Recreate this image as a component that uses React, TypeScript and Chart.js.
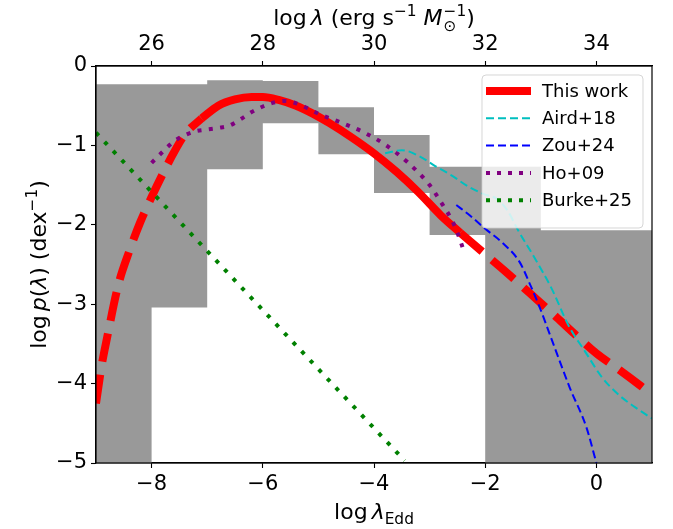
import React, { useEffect, useRef } from "react";
import { Chart, registerables } from "chart.js";

Chart.register(...registerables);

const FONT = "DejaVu Sans";
const TICK_FS = 21;
const LABEL_FS = 22;
const LEGEND_FS = 18;

// axis ticks
const bottomTicks = [-8, -6, -4, -2, 0];
const topTicks = [26, 28, 30, 32, 34];
const yTicks = [0, -1, -2, -3, -4, -5];

// gray bins (log lambda_Edd): left edges, then top/bottom of each bin; last edge closes the range
const binEdges = [-9, -8, -7, -6, -5, -4, -3, -2, -1, 0, 1];
const binTop = [-0.23, -0.23, -0.18, -0.19, -0.52, -0.87, -1.27, -1.27, -2.07, -2.07];
const binBottom = [-5, -3.04, -1.3, -0.72, -1.11, -1.6, -2.13, -5, -5, -5];

// This work
const redX = [-9.0, -8.9, -8.8, -8.6, -8.4, -8.2, -8.0, -7.8, -7.6, -7.4, -7.1, -6.8, -6.5, -6.2, -6.0, -5.7, -5.4, -5.1, -4.8, -4.4, -4.0, -3.6, -3.2, -2.8, -2.45, -2.0, -1.6, -1.2, -0.8, -0.4, 0.0, 0.4, 0.8, 1.0];
const redY = [-4.25, -3.78, -3.42, -2.76, -2.33, -1.96, -1.65, -1.36, -1.09, -0.86, -0.66, -0.5, -0.42, -0.39, -0.39, -0.43, -0.5, -0.6, -0.72, -0.9, -1.1, -1.33, -1.59, -1.88, -2.1, -2.37, -2.61, -2.86, -3.11, -3.37, -3.62, -3.82, -4.03, -4.14];
const redSolidStart = -7.1;
const redSolidEnd = -2.45;

// Aird+18
const airdX = [-3.8, -3.5, -3.2, -2.9, -2.6, -2.3, -2.0, -1.8, -1.6, -1.4, -1.1, -0.8, -0.5, -0.2, 0.1, 0.4, 0.7, 1.0];
const airdY = [-1.1, -1.06, -1.13, -1.26, -1.38, -1.52, -1.62, -1.67, -1.82, -2.08, -2.43, -2.81, -3.27, -3.6, -3.92, -4.14, -4.3, -4.44];

// Zou+24
const zouX = [-2.52, -2.28, -2.0, -1.7, -1.38, -1.2, -1.02, -0.78, -0.48, -0.18, 0.0];
const zouY = [-1.75, -1.88, -2.05, -2.22, -2.47, -2.74, -3.04, -3.49, -4.05, -4.55, -5.0];

// Ho+09
const hoX = [-8.0, -7.8, -7.6, -7.4, -7.2, -7.0, -6.8, -6.6, -6.4, -6.2, -6.0, -5.8, -5.6, -5.4, -5.2, -5.0, -4.6, -4.2, -3.8, -3.4, -3.0, -2.8, -2.6, -2.5, -2.4, -2.37];
const hoY = [-1.22, -1.08, -0.95, -0.87, -0.82, -0.8, -0.78, -0.75, -0.67, -0.58, -0.51, -0.46, -0.44, -0.47, -0.53, -0.6, -0.71, -0.83, -0.99, -1.21, -1.5, -1.71, -1.94, -2.1, -2.3, -2.37];

// Burke+25
const burkeX = [-9.0, -7.0, -3.45];
const burkeY = [-0.84, -2.33, -4.97];

const legendLabels = ["This work", "Aird+18", "Zou+24", "Ho+09", "Burke+25"];

const zip = (xs: number[], ys: number[]) => xs.map((x, i) => ({ x, y: ys[i] }));
const fmt = (v: number) => (v < 0 ? "\u2212" + Math.abs(v) : String(v));

type Part = { t: string; it?: boolean; s?: number; dy?: number; stack?: boolean; gap?: number };

function drawRich(ctx: CanvasRenderingContext2D, parts: Part[], size: number, cx: number, baseline: number) {
  const items: { t: string; font: string; x: number; dy: number }[] = [];
  let x = 0;
  let pending = 0;
  for (const p of parts) {
    const fs = (p.s ?? 1) * size;
    const font = `${p.it ? "italic " : ""}${fs}px "${FONT}"`;
    ctx.font = font;
    const w = ctx.measureText(p.t).width;
    x += p.gap ?? 0;
    items.push({ t: p.t, font, x, dy: p.dy ?? 0 });
    if (p.stack) pending = Math.max(pending, w);
    else {
      x += Math.max(w, pending);
      pending = 0;
    }
  }
  const x0 = cx - x / 2;
  ctx.textAlign = "left";
  ctx.textBaseline = "alphabetic";
  ctx.fillStyle = "#000";
  for (const it of items) {
    ctx.font = it.font;
    ctx.fillText(it.t, x0 + it.x, baseline + it.dy);
  }
}

const decorPlugin = {
  id: "decor",
  afterDatasetsDraw(chart: any) {
    const ctx: CanvasRenderingContext2D = chart.ctx;
    const a = chart.chartArea;
    ctx.save();
    ctx.strokeStyle = "#000";
    ctx.lineWidth = 1.2;
    ctx.strokeRect(a.left, a.top, a.right - a.left, a.bottom - a.top);
    ctx.restore();
  },
  afterDraw(chart: any) {
    const ctx: CanvasRenderingContext2D = chart.ctx;
    const a = chart.chartArea;
    ctx.save();
    const cx = (a.left + a.right) / 2;
    drawRich(ctx, [{ t: "log" }, { t: "\u03bb", it: true, gap: 4 }, { t: "Edd", s: 0.7, dy: 5 }], LABEL_FS, cx, 519);
    drawRich(
      ctx,
      [
        { t: "log" },
        { t: "\u03bb", it: true, gap: 4 },
        { t: " (erg s" },
        { t: "\u22121", s: 0.7, dy: -9 },
        { t: " " },
        { t: "M", it: true },
        { t: "\u22121", s: 0.7, dy: -9, stack: true, gap: 1 },
        { t: "\u2299", s: 0.7, dy: 6 },
        { t: ")" },
      ],
      LABEL_FS,
      cx,
      25
    );
    ctx.save();
    ctx.translate(46, (a.top + a.bottom) / 2);
    ctx.rotate(-Math.PI / 2);
    drawRich(
      ctx,
      [
        { t: "log" },
        { t: "p", it: true, gap: 4 },
        { t: "(" },
        { t: "\u03bb", it: true },
        { t: ")" },
        { t: " (dex" },
        { t: "\u22121", s: 0.7, dy: -9 },
        { t: ")" },
      ],
      LABEL_FS,
      0,
      0
    );
    ctx.restore();

    // legend
    const lw = 161;
    const lh = 153;
    const lx = a.right - 9 - lw;
    const ly = a.top + 9;
    const r = 4;
    ctx.beginPath();
    ctx.moveTo(lx + r, ly);
    ctx.arcTo(lx + lw, ly, lx + lw, ly + lh, r);
    ctx.arcTo(lx + lw, ly + lh, lx, ly + lh, r);
    ctx.arcTo(lx, ly + lh, lx, ly, r);
    ctx.arcTo(lx, ly, lx + lw, ly, r);
    ctx.closePath();
    ctx.fillStyle = "rgba(255,255,255,0.8)";
    ctx.fill();
    ctx.strokeStyle = "rgba(204,204,204,0.8)";
    ctx.lineWidth = 1;
    ctx.stroke();
    const styles = [
      { c: "#ff0000", w: 8, d: [] as number[] },
      { c: "#00bfbf", w: 2, d: [8, 4] },
      { c: "#0000ff", w: 2, d: [8, 4] },
      { c: "#800080", w: 4, d: [4, 7] },
      { c: "#008000", w: 4, d: [4, 7] },
    ];
    legendLabels.forEach((lab, i) => {
      const y = ly + 16 + i * 27.3;
      const s = styles[i];
      ctx.beginPath();
      ctx.setLineDash(s.d);
      ctx.lineCap = "butt";
      ctx.strokeStyle = s.c;
      ctx.lineWidth = s.w;
      ctx.moveTo(lx + 4, y);
      ctx.lineTo(lx + 49, y);
      ctx.stroke();
      ctx.setLineDash([]);
      ctx.fillStyle = "#000";
      ctx.font = `${LEGEND_FS}px "${FONT}"`;
      ctx.textAlign = "left";
      ctx.textBaseline = "middle";
      ctx.fillText(lab, lx + 60, y + 1);
    });
    ctx.restore();
  },
};

const axisCommon = (ticksList: number[]) => ({
  type: "linear" as const,
  afterBuildTicks: (s: any) => {
    s.ticks = ticksList.map((v) => ({ value: v }));
  },
  grid: { drawOnChartArea: false, drawTicks: true, tickLength: 5, color: "#000", tickWidth: 1.1 },
  border: { display: true, color: "#000", width: 1.2 },
  ticks: {
    color: "#000",
    font: { family: FONT, size: TICK_FS },
    padding: 4,
    maxRotation: 0,
    autoSkip: false,
    callback: (v: any) => fmt(Number(v)),
  },
});

export default function App() {
  const ref = useRef<HTMLCanvasElement>(null);
  useEffect(() => {
    document.body.style.margin = "0";
    const canvas = ref.current!;
    const lastTop = binTop[binTop.length - 1];
    const lastBottom = binBottom[binBottom.length - 1];
    const topStep = binEdges.map((x, i) => ({ x, y: i < binTop.length ? binTop[i] : lastTop }));
    const bottomStep = binEdges.map((x, i) => ({ x, y: i < binBottom.length ? binBottom[i] : lastBottom }));
    const redAll = zip(redX, redY);
    const line = (data: any[], color: string, width: number, dash: number[], order: number) => ({
      type: "line" as const,
      data,
      borderColor: color,
      borderWidth: width,
      borderDash: dash,
      borderCapStyle: "butt" as const,
      pointRadius: 0,
      fill: false,
      cubicInterpolationMode: "monotone" as const,
      order,
    });
    const datasets: any[] = [
      {
        data: topStep,
        stepped: "before",
        fill: "+1",
        backgroundColor: "#999999",
        borderWidth: 0,
        borderColor: "rgba(0,0,0,0)",
        pointRadius: 0,
        order: 100,
      },
      {
        data: bottomStep,
        stepped: "before",
        fill: false,
        borderWidth: 0,
        borderColor: "rgba(0,0,0,0)",
        pointRadius: 0,
        order: 101,
      },
      line(redAll.filter((p) => p.x <= redSolidStart), "#ff0000", 8, [29, 13], 50),
      line(redAll.filter((p) => p.x >= redSolidStart && p.x <= redSolidEnd), "#ff0000", 8, [], 50),
      line(redAll.filter((p) => p.x >= redSolidEnd), "#ff0000", 8, [29, 13], 50),
      line(zip(burkeX, burkeY), "#008000", 4, [4, 8.5], 14),
      line(zip(hoX, hoY), "#800080", 4, [4, 7.4], 13),
      line(zip(zouX, zouY), "#0000ff", 2, [8, 4], 12),
      line(zip(airdX, airdY), "#00bfbf", 2, [8, 4], 11),
    ];
    const chart = new Chart(canvas, {
      type: "line",
      data: { datasets },
      plugins: [decorPlugin],
      options: {
        animation: false,
        responsive: false,
        maintainAspectRatio: false,
        layout: { padding: { left: 0, right: 21, top: 0, bottom: 0 } },
        plugins: { legend: { display: false }, tooltip: { enabled: false } },
        scales: {
          x: {
            ...axisCommon(bottomTicks),
            position: "bottom",
            min: -9,
            max: 1,
            afterFit: (s: any) => {
              s.height = 66;
            },
          },
          x2: {
            ...axisCommon(topTicks),
            position: "top",
            min: 25,
            max: 35,
            afterFit: (s: any) => {
              s.height = 66;
            },
          },
          y: {
            ...axisCommon(yTicks),
            position: "left",
            min: -5,
            max: 0,
            afterFit: (s: any) => {
              s.width = 96;
            },
          },
        },
      } as any,
    });
    return () => chart.destroy();
  }, []);
  return <canvas ref={ref} width={673} height={529} style={{ display: "block", width: 673, height: 529 }} />;
}
